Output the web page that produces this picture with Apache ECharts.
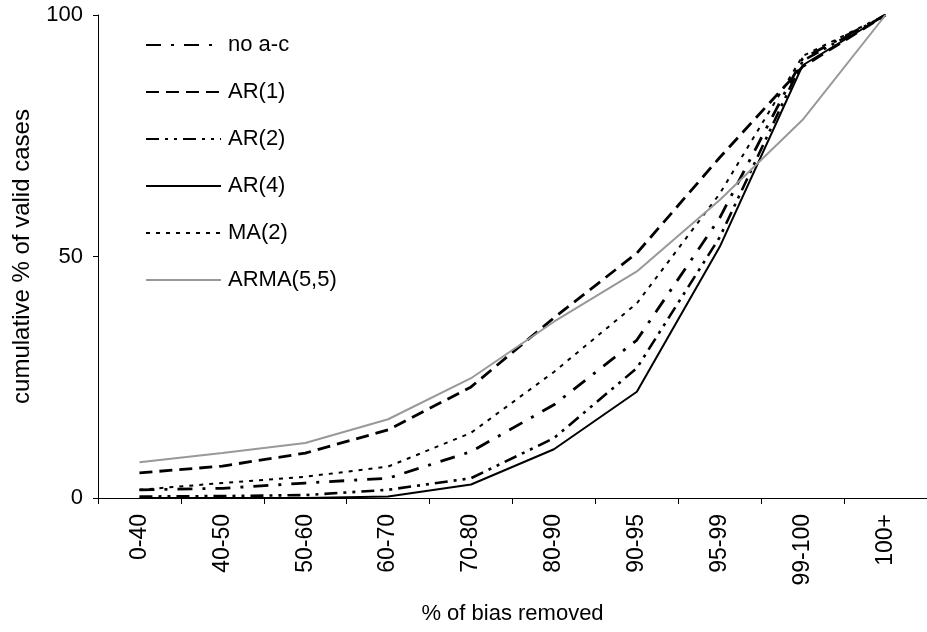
<!DOCTYPE html>
<html>
<head>
<meta charset="utf-8">
<script src="https://cdn.jsdelivr.net/npm/echarts@6/dist/echarts.min.js"></script>
<style>
  html, body { margin: 0; padding: 0; background: #ffffff; }
  #chart { width: 927px; height: 632px; }
</style>
</head>
<body>
<div id="chart"></div>
<script>
// Bias-removal bins on the x axis
const categories = ['0-40', '40-50', '50-60', '60-70', '70-80', '80-90', '90-95', '95-99', '99-100', '100+'];

// Cumulative % of valid cases for each error model
const noAc   = [1.7, 2.0, 3.1, 4.1, 9.6, 19.3, 32.7, 58.0, 91.0, 100];
const ar1    = [5.2, 6.6, 9.3, 14.1, 23.0, 37.3, 50.7, 70.5, 89.3, 100];
const ar2    = [0.3, 0.4, 0.6, 1.7, 4.1, 12.4, 26.9, 54.0, 90.5, 100];
const ar4    = [0.0, 0.0, 0.0, 0.3, 2.8, 10.1, 22.0, 52.0, 89.6, 100];
const ma2    = [1.7, 3.1, 4.4, 6.5, 13.5, 26.1, 40.3, 63.0, 91.5, 100];
const arma55 = [7.4, 9.3, 11.4, 16.3, 24.8, 36.5, 46.9, 61.7, 78.3, 100];

const yTicks = [0, 50, 100];

const FONT = '"Liberation Sans", Arial, sans-serif';

function lineSeries(name, data, color, width, type) {
  return {
    name: name,
    type: 'line',
    data: data,
    symbol: 'none',
    showSymbol: false,
    smooth: false,
    animation: false,
    itemStyle: { color: color },
    lineStyle: { color: color, width: width, type: type, cap: 'butt' },
    emphasis: { disabled: true }
  };
}

const chart = echarts.init(document.getElementById('chart'), null, { renderer: 'canvas' });

chart.setOption({
  backgroundColor: '#ffffff',
  animation: false,
  textStyle: { fontFamily: FONT, color: '#000' },
  grid: { left: 98, top: 15, width: 834, height: 483, containLabel: false },
  legend: {
    orient: 'vertical',
    left: 145,
    top: 34,
    padding: 0,
    itemWidth: 75,
    itemHeight: 14,
    itemGap: 25,
    itemStyle: { opacity: 0 },
    textStyle: { fontFamily: FONT, fontSize: 22, color: '#000', padding: [0, 0, 0, 2] },
    data: ['no a-c', 'AR(1)', 'AR(2)', 'AR(4)', 'MA(2)', 'ARMA(5,5)'],
    selectedMode: false
  },
  xAxis: {
    type: 'category',
    data: categories,
    boundaryGap: true,
    name: '% of bias removed',
    nameLocation: 'middle',
    nameGap: 105,
    nameTextStyle: { fontFamily: FONT, fontSize: 22, color: '#000' },
    axisLine: { lineStyle: { color: '#000', width: 1 } },
    axisTick: { show: true, length: 6, lineStyle: { color: '#000' } },
    axisLabel: { rotate: 90, margin: 16, fontFamily: FONT, fontSize: 23, color: '#000', interval: 0 },
    splitLine: { show: false }
  },
  yAxis: {
    type: 'value',
    min: yTicks[0],
    max: yTicks[yTicks.length - 1],
    interval: yTicks[1] - yTicks[0],
    name: 'cumulative % of valid cases',
    nameLocation: 'middle',
    nameGap: 64,
    nameRotate: 90,
    nameTextStyle: { fontFamily: FONT, fontSize: 24, color: '#000' },
    axisLine: { show: true, lineStyle: { color: '#000', width: 1 } },
    axisTick: { show: true, length: 5, lineStyle: { color: '#000' } },
    axisLabel: { margin: 15, fontFamily: FONT, fontSize: 22, color: '#000' },
    splitLine: { show: false }
  },
  series: [
    lineSeries('no a-c', noAc, '#000000', 2.8, [15, 10, 3, 10]),
    lineSeries('AR(1)', ar1, '#000000', 2.8, [13, 7]),
    lineSeries('AR(2)', ar2, '#000000', 2.6, [13, 6, 3, 6, 3, 6]),
    lineSeries('AR(4)', ar4, '#000000', 2, 'solid'),
    lineSeries('MA(2)', ma2, '#000000', 2, [4, 6]),
    lineSeries('ARMA(5,5)', arma55, '#999999', 2, 'solid')
  ]
});
</script>
</body>
</html>
